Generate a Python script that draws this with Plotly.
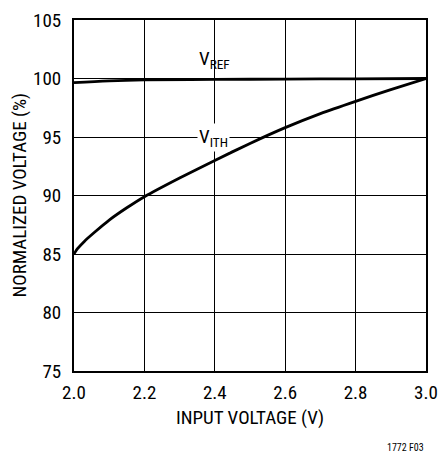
import plotly.graph_objects as go

vin = [2.0, 2.01, 2.03, 2.06, 2.1, 2.15, 2.2, 2.3, 2.4, 2.5, 2.6, 2.7, 2.8, 2.9, 3.0]
vith = [85.0, 85.45, 86.1, 86.9, 87.9, 88.95, 89.9, 91.5, 93.0, 94.45, 95.8, 97.0, 98.05, 99.05, 100.0]
vref_x = [2.0, 2.1, 2.2, 2.4, 2.6, 2.8, 3.0]
vref = [99.65, 99.8, 99.88, 99.92, 99.95, 99.97, 100.0]
xticks = [2.0, 2.2, 2.4, 2.6, 2.8, 3.0]
xtick_labels = ["2.0", "2.2", "2.4", "2.6", "2.8", "3.0"]
yticks = [75, 80, 85, 90, 95, 100, 105]

FONT = "Arial Narrow, Roboto Condensed, sans-serif"

fig = go.Figure()
fig.add_trace(go.Scatter(x=vref_x, y=vref, mode="lines", line=dict(color="black", width=2.8),
                         line_shape="spline", showlegend=False))
fig.add_trace(go.Scatter(x=vin, y=vith, mode="lines", line=dict(color="black", width=2.8),
                         line_shape="spline", line_smoothing=0.6, showlegend=False))

fig.add_annotation(x=2.4, y=101.6, text="V<sub>REF</sub>", showarrow=False,
                   font=dict(family=FONT, size=19, color="black"))
fig.add_annotation(x=2.395, y=95, text="V<sub>ITH</sub>", showarrow=False, bgcolor="white",
                   font=dict(family=FONT, size=19, color="black"))
fig.add_annotation(x=1, y=0, xref="paper", yref="paper", xanchor="right", yanchor="bottom", yshift=-84,
                   text="1772 F03", showarrow=False, font=dict(family=FONT, size=10, color="black"))
fig.add_annotation(x=0.5, y=0, xref="paper", yref="paper", xanchor="center", yanchor="middle", yshift=-46,
                   text="INPUT VOLTAGE (V)", showarrow=False, font=dict(family=FONT, size=19, color="black"))
fig.add_annotation(x=0, y=0.5, xref="paper", yref="paper", xanchor="center", yanchor="middle", xshift=-55,
                   textangle=-90, text="NORMALIZED VOLTAGE (%)", showarrow=False,
                   font=dict(family=FONT, size=19, color="black"))

fig.update_xaxes(range=[2.0, 3.0], tickvals=xticks, ticktext=xtick_labels, showgrid=True, gridcolor="black", gridwidth=1,
                 showline=True, linecolor="black", linewidth=2, mirror=True,
                 ticks="outside", ticklen=3, tickcolor="rgba(0,0,0,0)", zeroline=False,
                 automargin=False,
                 tickfont=dict(family=FONT, size=19, color="black"))
fig.update_yaxes(range=[75, 105], tickvals=yticks, showgrid=True, gridcolor="black", gridwidth=1,
                 showline=True, linecolor="black", linewidth=2, mirror=True,
                 ticks="outside", ticklen=7, tickcolor="rgba(0,0,0,0)", zeroline=False,
                 automargin=False,
                 tickfont=dict(family=FONT, size=19, color="black"))

fig.update_layout(width=440, height=452, margin=dict(l=74, r=14, t=20, b=81),
                  plot_bgcolor="white", paper_bgcolor="white")

# remove the page's default 8px body margin so the figure fills the window exactly
fig.write_html("out.html", config={"displayModeBar": False},
               post_script="document.body.style.margin='0';document.body.style.overflow='hidden';")
